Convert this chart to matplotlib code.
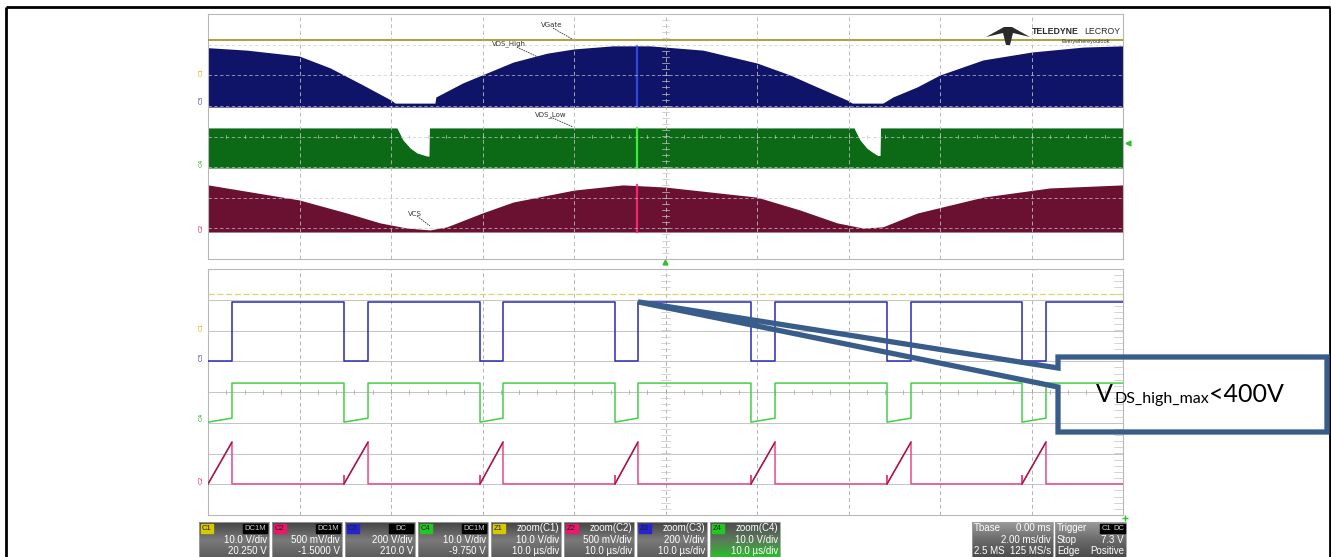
import matplotlib
matplotlib.use('Agg')
import matplotlib.pyplot as plt
from matplotlib.patches import Rectangle, Polygon
import numpy as np

# ---------------- data ----------------
# Upper panel: 2 ms/div, time in ms, amplitude in screen divisions
vgate_t = [-10.0, 10.0]
vgate_y = [3.15, 3.15]

vdsh_t = [-10.00, -9.15, -8.01, -7.33, -6.61, -6.00, -5.91, -5.04, -5.02, -4.43, -4.01,
          -3.33, -2.59, -2.00, -1.15, -0.34, 0.82, 2.00, 2.72, 3.31, 3.97, 4.08, 4.75,
          4.97, 5.50, 6.00, 6.94, 8.01, 9.13, 10.00]
vdsh_top = [2.90, 2.82, 2.63, 2.24, 1.68, 1.19, 1.09, 1.09, 1.29, 1.75, 2.01,
            2.43, 2.72, 2.86, 2.96, 2.96, 2.82, 2.40, 2.01, 1.62, 1.19, 1.09, 1.09,
            1.29, 1.62, 2.01, 2.50, 2.76, 2.92, 2.96]
vdsh_bottom = 0.96

vdsl_t = [-10.0, -5.87, -5.74, -5.58, -5.43, -5.21, -5.17, -5.16,
          4.12, 4.25, 4.40, 4.53, 4.64, 4.69, 4.70, 10.0]
vdsl_top = [0.28, 0.28, -0.11, -0.38, -0.54, -0.64, -0.64, 0.28,
            0.28, -0.11, -0.38, -0.52, -0.62, -0.62, 0.28, 0.28]
vdsl_bottom = -1.03

vcs_t = [-10.00, -8.01, -6.96, -6.24, -5.65, -5.15, -4.78, -4.01, -3.33, -2.00, -0.93,
         -0.01, 2.00, 2.94, 3.75, 4.32, 4.75, 5.50, 6.94, 8.40, 10.00]
vcs_top = [-1.58, -2.07, -2.50, -2.82, -2.99, -3.05, -2.95, -2.50, -2.14, -1.75, -1.58,
           -1.65, -1.98, -2.40, -2.82, -2.99, -2.95, -2.50, -1.98, -1.68, -1.58]
vcs_bottom = -3.12

cursor_t = -0.62

upper_labels = ['VGate', 'VDS_High', 'VDS_Low', 'VCS']
upper_label_xy = [(-2.48, 3.64), (-3.42, 3.02), (-2.50, 0.73), (-5.48, -2.53)]
upper_label_line = [((-2.46, 3.54), (-2.04, 3.18)), ((-3.25, 2.92), (-2.74, 2.56)),
                    ((-2.52, 0.64), (-2.02, 0.31)), ((-5.43, -2.60), (-5.15, -2.92))]

# Lower panel (zoom): 10 us/div, time in us, amplitude in divisions
rise_us = [2.62, 17.49, 32.24, 46.99, 61.97, 76.83, 91.58]
fall_us = [14.86, 29.73, 44.48, 59.34, 74.21, 88.96]
c1_level = 3.19
c3_high, c3_low = 2.93, 1.01
c4_high, c4_low_start, c4_low_end = 0.29, -0.98, -0.85
c2_base, c2_peak, c2_blip = -2.99, -1.63, -2.72

callout_text = ['V', 'DS_high_max', '<400V']

info_boxes = [
    ('C1', '#d8c800', 'DC1M', '10.0 V/div', '20.250 V'),
    ('C2', '#e8186a', 'DC1M', '500 mV/div', '-1.5000 V'),
    ('C3', '#2424d0', 'DC', '200 V/div', '210.0 V'),
    ('C4', '#22c822', 'DC1M', '10.0 V/div', '-9.750 V'),
    ('Z1', '#d8c800', 'zoom(C1)', '10.0 V/div', '10.0 µs/div'),
    ('Z2', '#e8186a', 'zoom(C2)', '500 mV/div', '10.0 µs/div'),
    ('Z3', '#2424d0', 'zoom(C3)', '200 V/div', '10.0 µs/div'),
    ('Z4', '#22c822', 'zoom(C4)', '10.0 V/div', '10.0 µs/div'),
]
tbase_rows = [('Tbase', '0.00 ms'), ('', '2.00 ms/div'), ('2.5 MS', '125 MS/s')]
trig_rows = [('Trigger', ''), ('Stop', '7.3 V'), ('Edge', 'Positive')]

# ---------------- figure ----------------
W, H = 1331, 557
fig = plt.figure(figsize=(W / 100, H / 100), dpi=100)
fig.patch.set_facecolor('white')


def fr(x0, y0, x1, y1):
    return [x0 / W, 1 - y1 / H, (x1 - x0) / W, (y1 - y0) / H]


ax_top = fig.add_axes(fr(208, 14, 1123, 259))
ax_bot = fig.add_axes(fr(208, 269, 1123, 515))
ov = fig.add_axes([0, 0, 1, 1], zorder=10)
ov.patch.set_alpha(0)

GRID = '#b4b4b4'
TICK = '#c4c4c4'

for ax in (ax_top, ax_bot):
    ax.set_facecolor('white')
    ax.set_xticks([]); ax.set_yticks([])
    for s in ax.spines.values():
        s.set_color('#b8b8b8'); s.set_linewidth(0.8)
    ax.set_ylim(-4, 4)

ax_top.set_xlim(-10, 10)
ax_bot.set_xlim(0, 100)

# ---- upper panel traces ----
ax_top.plot(vgate_t, vgate_y, color='#a49a2a', lw=1.3, zorder=3)
ax_top.fill_between(vdsh_t, vdsh_bottom, vdsh_top, color='#101468', lw=0, zorder=2)
ax_top.fill_between(vdsl_t, vdsl_bottom, vdsl_top, color='#0c6a16', lw=0, zorder=2)
ax_top.fill_between(vcs_t, vcs_bottom, vcs_top, color='#6a1030', lw=0, zorder=2)
ax_top.plot([cursor_t] * 2, [vdsh_bottom, max(vdsh_top)], color='#3050e8', lw=1.6, alpha=0.9, zorder=3)
ax_top.plot([cursor_t] * 2, [vdsl_bottom, vdsl_top[0]], color='#40ff40', lw=1.6, alpha=0.9, zorder=3)
ax_top.plot([cursor_t] * 2, [vcs_bottom, max(vcs_top)], color='#ff2a78', lw=1.6, alpha=0.9, zorder=3)

# grid (upper)
for gx in range(-8, 10, 2):
    ax_top.axvline(gx, color=GRID, lw=0.7, ls=(0, (4, 3)), zorder=4, alpha=0.9)
for gy in range(-3, 4):
    ax_top.axhline(gy, color='#c8c8c8', lw=0.6, ls=(0, (4, 3)), zorder=4, alpha=0.8)
for yy in np.arange(-4, 4.01, 0.2):
    ax_top.plot([-0.08, 0.08], [yy, yy], color=TICK, lw=0.5, zorder=4)
for xx in np.arange(-10, 10.01, 0.4):
    ax_top.plot([xx, xx], [-0.04, 0.04], color=TICK, lw=0.5, zorder=4)

for lab, (lx, ly), ((x0, y0), (x1, y1)) in zip(upper_labels, upper_label_xy, upper_label_line):
    ax_top.text(lx, ly, lab, fontsize=5, color='#333333', ha='center', va='center', zorder=6,
                family='DejaVu Sans')
    ax_top.plot([x0, x1], [y0, y1], color='#333333', lw=0.6, ls=(0, (2, 1)), zorder=6)

# ---- lower panel grid ----
for gx in range(10, 100, 10):
    ax_bot.axvline(gx, color=GRID, lw=0.7, ls=(0, (4, 3)), zorder=1)
for gy in range(-3, 4):
    ax_bot.axhline(gy, color='#c4c4c4', lw=0.7, zorder=1)
for yy in np.arange(-4, 4.01, 0.2):
    ax_bot.plot([49.5, 50.5], [yy, yy], color=TICK, lw=0.5, zorder=1)
    ax_bot.plot([99.0, 100], [yy, yy], color=TICK, lw=0.5, zorder=1)
for xx in np.arange(0, 100.01, 2):
    ax_bot.plot([xx, xx], [-0.05, 0.05], color='#a0a0a0', lw=0.5, zorder=1)

# ---- lower panel traces ----
events = sorted([(t, 'r') for t in rise_us] + [(t, 'f') for t in fall_us])

ax_bot.plot([0, 100], [c1_level, c1_level], color='#dcd470', lw=0.9, ls=(0, (5, 2)), zorder=3)

# C3 blue square wave
bx, by = [0.0], [c3_low]
for t, k in events:
    if k == 'r':
        bx += [t, t]; by += [c3_low, c3_high]
    else:
        bx += [t, t]; by += [c3_high, c3_low]
bx.append(100.0); by.append(c3_high)
ax_bot.plot(bx, by, color='#2a2ab4', lw=1.1, zorder=4)

# C4 green
gx_, gy_ = [0.0], [c4_low_start]
for t, k in events:
    if k == 'r':
        gx_ += [t, t]; gy_ += [c4_low_end, c4_high]
    else:
        gx_ += [t, t]; gy_ += [c4_high, c4_low_start]
gx_.append(100.0); gy_.append(c4_high)
ax_bot.plot(gx_, gy_, color='#44d044', lw=1.1, zorder=4)

# C2 pink current
px_, py_ = [0.0], [c2_base]
ramps = [((0.0, c2_base), (rise_us[0], c2_peak))]
px_ += [rise_us[0], rise_us[0]]; py_ += [c2_peak, c2_base]
for f, r in zip(fall_us, rise_us[1:]):
    px_ += [f, f, f, r, r]; py_ += [c2_base, c2_blip, c2_base, c2_peak, c2_base]
    ramps.append(((f, c2_base), (r, c2_peak)))
px_.append(100.0); py_.append(c2_base)
ax_bot.plot(px_, py_, color='#e8488a', lw=1.1, zorder=4)
for (x0, y0), (x1, y1) in ramps:
    ax_bot.plot([x0, x1], [y0, y1], color='#a01848', lw=1.0, zorder=5)

# channel markers on the left
for txt, col, yp in [('C1', '#c8b400', 72), ('C3', '#3030c8', 100), ('C4', '#22b022', 163), ('C2', '#e0206a', 228),
                     ('C1', '#c8b400', 327), ('C3', '#3030c8', 357), ('C4', '#22b022', 417), ('C2', '#e0206a', 480)]:
    ov.text(201, yp, txt, fontsize=4.5, color=col, rotation=90, ha='center', va='center')

# ---- overlay (layout in pixels) ----
ov.set_xlim(0, W)
ov.set_ylim(H, 0)
ov.axis('off')

# outer frame
ov.plot([6, 1330], [7, 7], color='black', lw=2.0, solid_capstyle='butt')
ov.plot([6, 6], [7, H], color='black', lw=2.0, solid_capstyle='butt')
ov.plot([1330, 1330], [7, H], color='black', lw=2.0, solid_capstyle='butt')

# logo
ov.add_patch(Polygon([(986, 37), (1004, 27), (1012, 27), (1030, 37), (1013, 33), (1010, 45), (1006, 45), (1003, 33)],
                     closed=True, color='#2a2a2a', lw=0))
ov.text(1032, 31, 'TELEDYNE', fontsize=6.3, fontweight='bold', color='#2a2a2a', ha='left', va='center',
        family='Liberation Sans')
ov.text(1120, 31, 'LECROY', fontsize=6.3, color='#2a2a2a', ha='right', va='center', family='Liberation Sans')
ov.text(1086, 41, 'Everywhereyoulook', fontsize=4, color='#303030', ha='center', va='center',
        family='Liberation Sans')

# small green markers
ov.plot([665], [262], marker='^', color='#30c030', ms=3.5)
ov.plot([1128], [143], marker='<', color='#30c030', ms=3.5)
ov.plot([1125], [518], marker='+', color='#30c030', ms=4)

# callout
tip_disp = ax_bot.transData.transform((rise_us[3], c3_high))
tip = ov.transData.inverted().transform(tip_disp)
call = Polygon([(1058, 357), (1327, 357), (1327, 432), (1058, 432), (1058, 387),
                (tip[0], tip[1]), (1058, 368)], closed=True, fill=False,
               edgecolor='#385D8A', lw=3.8, joinstyle='miter', zorder=20)
ov.add_patch(call)
ov.text(1096, 402.5, callout_text[0], fontsize=18, family='Lato', color='black', ha='left', va='baseline', zorder=21)
ov.text(1115, 403.5, callout_text[1], fontsize=11.5, family='Lato', color='black', ha='left', va='baseline', zorder=21)
ov.text(1209, 402.5, callout_text[2], fontsize=18, family='Lato', color='black', ha='left', va='baseline', zorder=21)


# info boxes
def grad_box(x0, y0, w, h, top, mid, bot):
    n = 40
    c_top, c_mid, c_bot = [np.array(matplotlib.colors.to_rgb(c)) for c in (top, mid, bot)]
    rows = []
    for i in range(n):
        f = i / (n - 1)
        if f < 0.5:
            rows.append(c_top + (c_mid - c_top) * f * 2)
        else:
            rows.append(c_mid + (c_bot - c_mid) * (f - 0.5) * 2)
    img = np.array(rows)[:, None, :]
    ov.imshow(img, extent=(x0, x0 + w, y0 + h, y0), aspect='auto', interpolation='bilinear', zorder=2)
    ov.add_patch(Rectangle((x0, y0), w, h, fill=False, edgecolor='#a0a0a0', lw=0.6, zorder=3))


TF = dict(family='Liberation Sans', color='white', zorder=5)
for i, (tag, col, hdr, r2, r3) in enumerate(info_boxes):
    x0 = 199 + i * 73
    if tag == 'Z4':
        grad_box(x0, 522, 70, 36, '#4c4c4c', '#5c7a5c', '#28c028')
    else:
        grad_box(x0, 522, 70, 36, '#444444', '#7a7a7a', '#5a5a5a')
    ov.add_patch(Rectangle((x0 + 1.5, 523.5), 12, 9, color=col, zorder=4))
    ov.text(x0 + 7.5, 528, tag, fontsize=5.5, ha='center', va='center', family='Liberation Sans',
            color='#202020', zorder=5)
    if tag.startswith('C'):
        ov.add_patch(Rectangle((x0 + 44, 523.5), 24, 9, color='black', zorder=4))
        ov.text(x0 + 56, 528, hdr, fontsize=5.5, ha='center', va='center', family='Liberation Sans',
                color='#d0d0d0', zorder=5)
    else:
        ov.text(x0 + 68, 528, hdr, fontsize=7, ha='right', va='center', **TF)
    ov.text(x0 + 68, 540, r2, fontsize=7, ha='right', va='center', **TF)
    ov.text(x0 + 68, 551, r3, fontsize=7, ha='right', va='center', **TF)

grad_box(972, 522, 81, 36, '#9a9a9a', '#6a6a6a', '#4a4a4a')
for (l, r), yy in zip(tbase_rows, [528, 540, 551]):
    ov.text(974, yy, l, fontsize=7, ha='left', va='center', **TF)
    ov.text(1051, yy, r, fontsize=7, ha='right', va='center', **TF)
grad_box(1055, 522, 71, 36, '#9a9a9a', '#6a6a6a', '#4a4a4a')
for (l, r), yy in zip(trig_rows, [528, 540, 551]):
    ov.text(1057, yy, l, fontsize=7, ha='left', va='center', **TF)
    ov.text(1124, yy, r, fontsize=7, ha='right', va='center', **TF)
ov.add_patch(Rectangle((1100, 523.5), 12, 9, color='black', zorder=4))
ov.add_patch(Rectangle((1113, 523.5), 12, 9, color='black', zorder=4))
ov.text(1106, 528, 'C1', fontsize=5.5, ha='center', va='center', family='Liberation Sans', color='#d8d8d8', zorder=5)
ov.text(1119, 528, 'DC', fontsize=5.5, ha='center', va='center', family='Liberation Sans', color='#d8d8d8', zorder=5)

ov.set_xlim(0, W)
ov.set_ylim(H, 0)

fig.savefig('out.png', dpi=100)
